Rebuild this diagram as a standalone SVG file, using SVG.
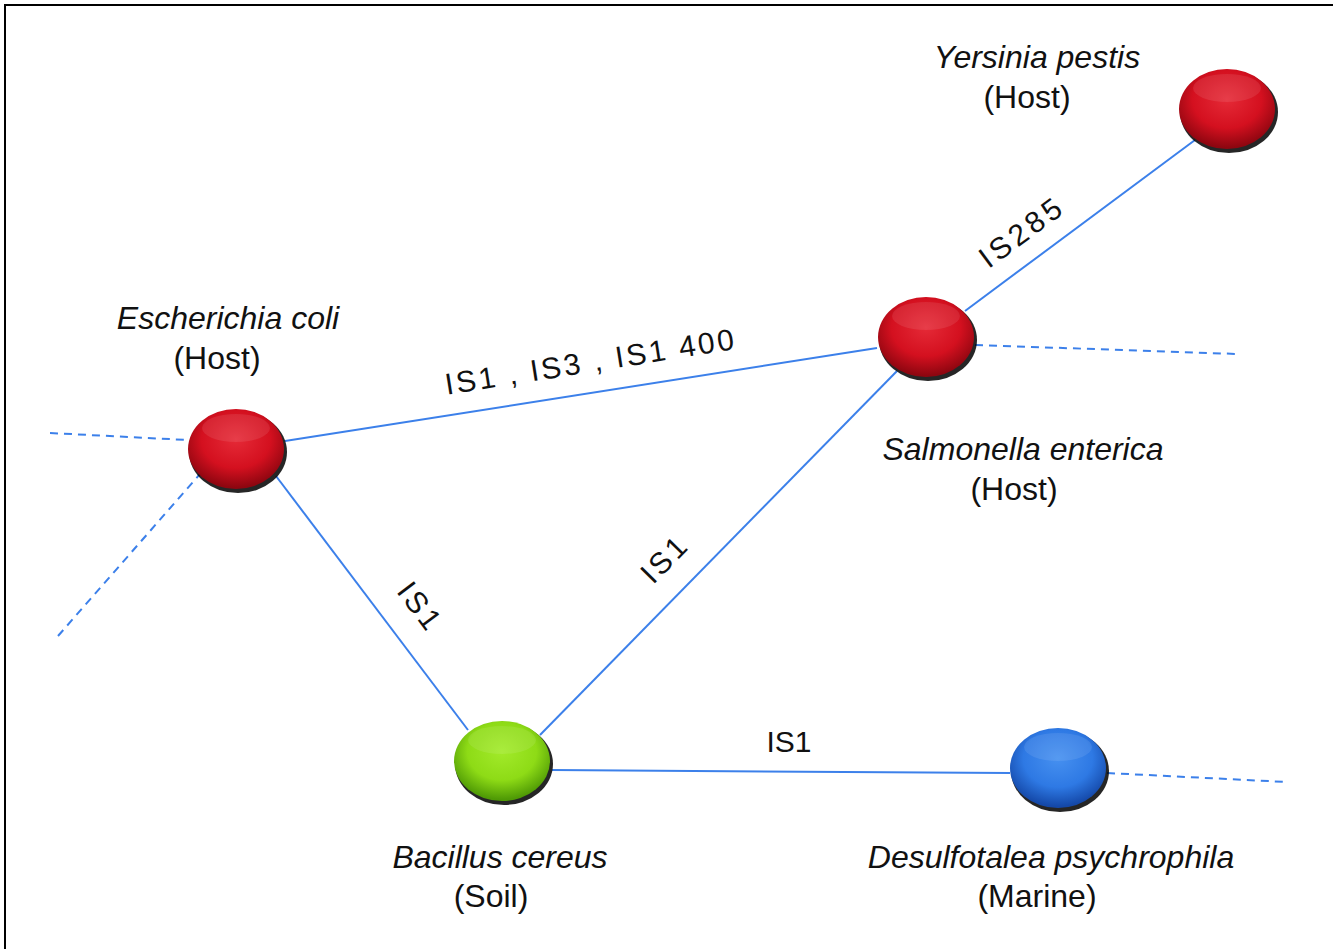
<svg xmlns="http://www.w3.org/2000/svg" width="1333" height="949" viewBox="0 0 1333 949">
<style>
.edge{stroke:#3c80ea;stroke-width:2;fill:none}
.dash{stroke:#3c80ea;stroke-width:2;fill:none;stroke-dasharray:8 6}
.name{font-family:"Liberation Sans",Arial,sans-serif;font-size:32px;font-style:italic;fill:#111;text-anchor:middle}
.sub{font-family:"Liberation Sans",Arial,sans-serif;font-size:32px;fill:#111;text-anchor:middle}
.el{font-family:"Liberation Sans",Arial,sans-serif;font-size:30px;fill:#111;text-anchor:middle}
.shadow{fill:#000;opacity:0.85}
.hl{fill:#fff;opacity:0.09}
</style>
<defs>
<radialGradient id="gRed" cx="50%" cy="38%" r="60%">
<stop offset="0" stop-color="#e52a37"/>
<stop offset="0.6" stop-color="#d4101f"/>
<stop offset="1" stop-color="#8e0610"/>
</radialGradient>
<radialGradient id="gGreen" cx="50%" cy="38%" r="60%">
<stop offset="0" stop-color="#a2ea2a"/>
<stop offset="0.6" stop-color="#8edb16"/>
<stop offset="1" stop-color="#4f9a05"/>
</radialGradient>
<radialGradient id="gBlue" cx="50%" cy="38%" r="60%">
<stop offset="0" stop-color="#4690f0"/>
<stop offset="0.6" stop-color="#2e79e4"/>
<stop offset="1" stop-color="#1448a8"/>
</radialGradient>
</defs>
<rect width="1333" height="949" fill="#fff"/>
<polyline points="5,949 5,5 1333,5" fill="none" stroke="#000" stroke-width="2"/>
<g id="connectors">
<line class="edge" x1="285" y1="441" x2="877" y2="348"/>
<line class="edge" x1="965" y1="311" x2="1195" y2="140"/>
<line class="edge" x1="276" y1="476" x2="468" y2="730"/>
<line class="edge" x1="540" y1="735" x2="897" y2="371"/>
<line class="edge" x1="552" y1="770" x2="1010" y2="773"/>
<line class="dash" x1="50" y1="433" x2="187" y2="440"/>
<line class="dash" x1="58" y1="636" x2="200" y2="474"/>
<line class="dash" x1="975" y1="345" x2="1238" y2="354"/>
<line class="dash" x1="1107" y1="773" x2="1287" y2="782"/>
<text class="el" transform="translate(591,372) rotate(-9)" textLength="292" lengthAdjust="spacing">IS1 , IS3 , IS1 400</text>
<text class="el" transform="translate(1028,240) rotate(-36.6)" letter-spacing="4">IS285</text>
<text class="el" transform="translate(412,613) rotate(53)" letter-spacing="3">IS1</text>
<text class="el" transform="translate(672,566) rotate(-45.6)" letter-spacing="3">IS1</text>
<text class="el" x="789" y="752">IS1</text>
</g>
<g id="ecoli">
<ellipse class="shadow" cx="238" cy="452" rx="49" ry="41"/>
<ellipse cx="236" cy="449" rx="48" ry="40" fill="url(#gRed)"/>
<ellipse class="hl" cx="236" cy="428" rx="34" ry="14"/>
<text class="name" x="228" y="329">Escherichia coli</text>
<text class="sub" x="217" y="369">(Host)</text>
</g>
<g id="salmonella">
<ellipse class="shadow" cx="928" cy="340" rx="49" ry="41"/>
<ellipse cx="926" cy="337" rx="48" ry="40" fill="url(#gRed)"/>
<ellipse class="hl" cx="926" cy="316" rx="34" ry="14"/>
<text class="name" x="1023" y="460">Salmonella enterica</text>
<text class="sub" x="1014" y="500">(Host)</text>
</g>
<g id="yersinia">
<ellipse class="shadow" cx="1229" cy="112" rx="49" ry="41"/>
<ellipse cx="1227" cy="109" rx="48" ry="40" fill="url(#gRed)"/>
<ellipse class="hl" cx="1227" cy="88" rx="34" ry="14"/>
<text class="name" x="1037" y="68">Yersinia pestis</text>
<text class="sub" x="1027" y="108">(Host)</text>
</g>
<g id="bacillus">
<ellipse class="shadow" cx="504" cy="764" rx="49" ry="41"/>
<ellipse cx="502" cy="761" rx="48" ry="40" fill="url(#gGreen)"/>
<ellipse class="hl" cx="502" cy="740" rx="34" ry="14"/>
<text class="name" x="500" y="868">Bacillus cereus</text>
<text class="sub" x="491" y="907">(Soil)</text>
</g>
<g id="desulfotalea">
<ellipse class="shadow" cx="1060" cy="771" rx="49" ry="41"/>
<ellipse cx="1058" cy="768" rx="48" ry="40" fill="url(#gBlue)"/>
<ellipse class="hl" cx="1058" cy="747" rx="34" ry="14"/>
<text class="name" x="1051" y="868">Desulfotalea psychrophila</text>
<text class="sub" x="1037" y="907">(Marine)</text>
</g>
</svg>
